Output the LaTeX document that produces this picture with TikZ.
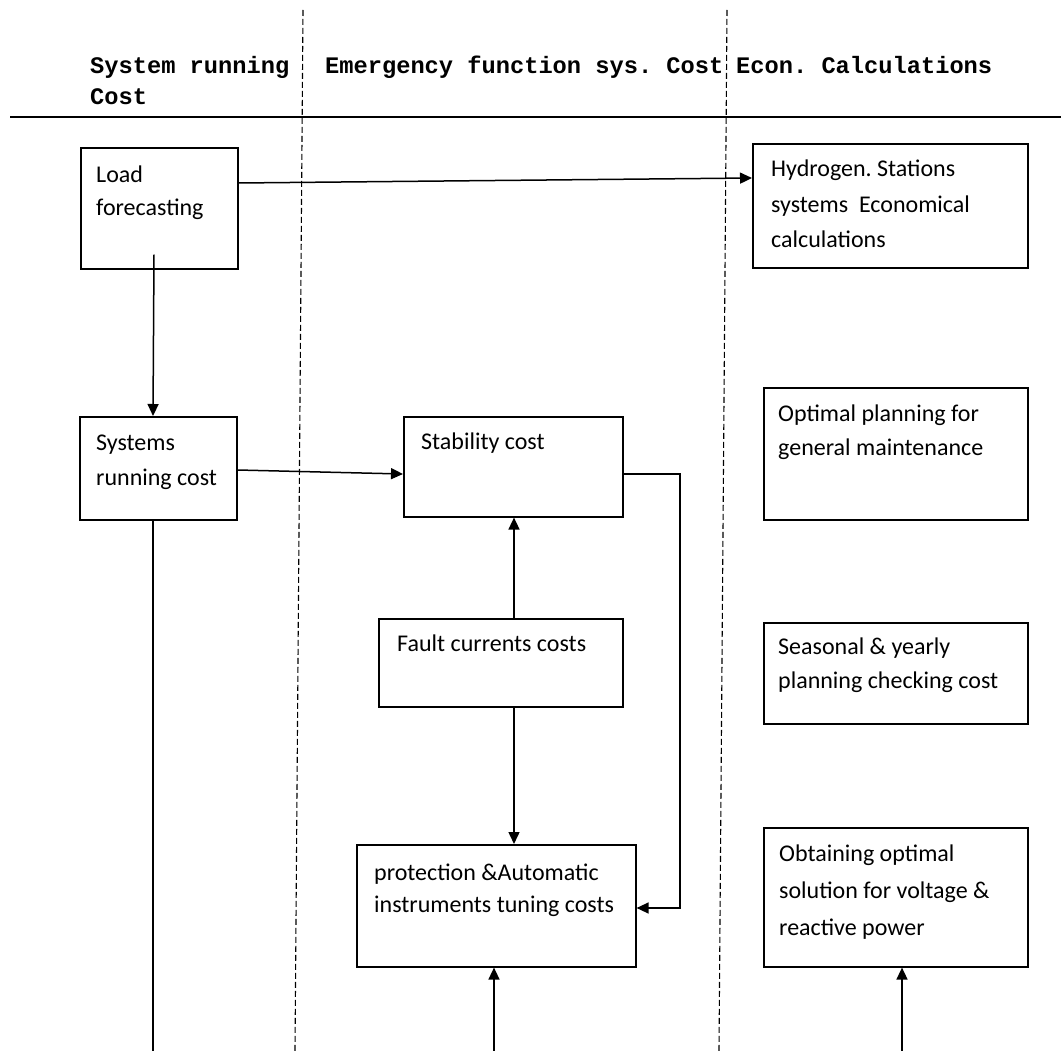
\documentclass[tikz,border=0pt]{standalone}
\usepackage{fontspec}
\setmainfont{Carlito}
\newfontfamily\hdrfont{Liberation Mono}
\usetikzlibrary{arrows.meta}
\frenchspacing
\begin{document}
\begin{tikzpicture}[x=1pt,y=-1pt,
  box/.style={draw, line width=1.6pt, inner sep=0pt, anchor=north west},
  txt/.style={anchor=base west, align=left, inner sep=0pt, font=\fontsize{24}{34}\selectfont},
  hdr/.style={anchor=base west, inner sep=0pt, align=left, font=\hdrfont\bfseries\fontsize{23.7}{31}\selectfont},
  conn/.style={line width=1.5pt, -{Triangle[length=12pt,width=11pt]}},
  plainline/.style={line width=1.5pt},
  sepline/.style={line width=1.1pt, dash pattern=on 6pt off 3pt}]
\useasboundingbox (0,0) rectangle (1061,1051);
% separators
\draw[sepline] (303,10) -- (295,1051);
\draw[sepline] (727,10) -- (719,1051);
\draw[line width=1.6pt] (10,117) -- (1061,117);
% headers (last-line baselines)
\node[hdr] (h1) at (90,105) {\frenchspacing System running\\Cost};
\node[hdr] (h2) at (325,74) {\frenchspacing Emergency function sys. Cost};
\node[hdr] (h3) at (736,74) {\frenchspacing Econ. Calculations};
% boxes
\node[box, minimum width=157pt, minimum height=121pt] (lf) at (80,147) {};
\node[box, minimum width=157pt, minimum height=103pt] (src) at (79,416) {};
\node[box, minimum width=219pt, minimum height=100pt] (stab) at (403,416) {};
\node[box, minimum width=244pt, minimum height=88pt] (fault) at (378,618) {};
\node[box, minimum width=279pt, minimum height=122pt] (prot) at (356,844) {};
\node[box, minimum width=275pt, minimum height=124pt] (hy) at (752,143) {};
\node[box, minimum width=264pt, minimum height=132pt] (opt) at (763,387) {};
\node[box, minimum width=264pt, minimum height=101pt] (sea) at (763,622) {};
\node[box, minimum width=264pt, minimum height=139pt] (obt) at (763,827) {};
% texts (anchored at the baseline of the last line)
\node[txt, font=\fontsize{24}{33}\selectfont] (lft) at (96,216) {Load\\forecasting};
\node[txt, font=\fontsize{24}{35}\selectfont] (srct) at (96,485) {Systems\\running cost};
\node[txt] (stabt) at (421,449) {Stability cost};
\node[txt] (faultt) at (397,651) {Fault currents costs};
\node[txt, font=\fontsize{24}{32}\selectfont] (prott) at (374,912) {protection \&Automatic\\instruments tuning costs};
\node[txt, font=\fontsize{24}{35.5}\selectfont] (hyt) at (771,248) {Hydrogen. Stations\\systems\ \ Economical\\calculations};
\node[txt] (optt) at (778,455) {Optimal planning for\\general maintenance};
\node[txt] (seat) at (778,688) {Seasonal \& yearly\\planning checking cost};
\node[txt, font=\fontsize{24}{37}\selectfont] (obtt) at (779,935) {Obtaining optimal\\solution for voltage \&\\reactive power};
% helper coordinates
\coordinate (c1) at (514,0);
\coordinate (c2) at (680,908);
\coordinate (srcend) at (153,1051);
\coordinate (b1) at (494,1051);
\coordinate (b2) at (902,1051);
% connectors
\draw[conn] ([yshift=-36pt]lf.north east) -- ([yshift=-35pt]hy.north west);
\draw[conn] ([shift={(74pt,15pt)}]lf.south west) -- ([xshift=74pt]src.north west);
\draw[conn] ([yshift=-54pt]src.north east) -- ([yshift=-58pt]stab.north west);
\draw[plainline] ([xshift=74pt]src.south west) -- (srcend);
\draw[conn] (fault.north -| c1) -- (stab.south -| c1);
\draw[conn] (fault.south -| c1) -- (prot.north -| c1);
\draw[conn] ([yshift=-58pt]stab.north east) -| (c2) -- (prot.east |- c2);
\draw[conn] (b1) -- (prot.south -| b1);
\draw[conn] (b2) -- (obt.south -| b2);
\end{tikzpicture}
\end{document}
